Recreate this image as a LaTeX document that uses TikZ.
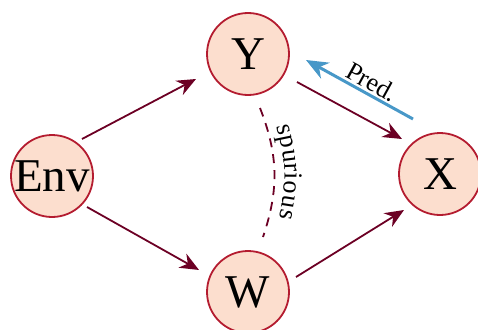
\documentclass[tikz,border=0pt]{standalone}
\usepackage{fontspec}
\setmainfont{Liberation Serif}
\usetikzlibrary{arrows.meta,calc,decorations.text}
\definecolor{nodefill}{RGB}{252,222,206}
\definecolor{nodeborder}{RGB}{180,28,48}
\definecolor{edgecol}{RGB}{108,0,36}
\definecolor{predcol}{RGB}{72,152,200}
\begin{document}
\begin{tikzpicture}[x=1pt,y=-1pt,
  var/.style={circle,draw=nodeborder,fill=nodefill,line width=1.8pt,minimum size=82pt,inner sep=0pt,font=\fontsize{47}{50}\selectfont},
  causal/.style={draw=edgecol,line width=1.8pt,-{Stealth[length=19pt,width=16pt]}},
  predarrow/.style={draw=predcol,line width=3pt,{Stealth[length=22pt,width=18pt]}-},
  spur/.style={draw=edgecol,line width=1.8pt,dash pattern=on 9pt off 7pt},
  lbl/.style={font=\fontsize{26}{28}\selectfont,inner sep=2pt}
]
\useasboundingbox (0,0) rectangle (478,329);
\node[var] (env) at (52,176) {Env};
\node[var] (y) at (248,54) {Y};
\node[var] (w) at (248,292) {W};
\node[var] (x) at (440,174) {X};
\draw[causal] ($(env)+(30,-37)$) -- ($(y)+(-52,25)$);
\draw[causal] ($(env)+(35,31)$) -- ($(w)+(-49,-22)$);
\draw[causal] ($(y)+(49,28)$) -- ($(x)+(-38,-35)$);
\draw[causal] ($(w)+(48,-15)$) -- ($(x)+(-36,36)$);
\draw[predarrow] ($(y)+(58,6)$) -- ($(x)+(-27,-55)$) node[lbl,pos=0.56,sloped,above] {Pred.};
\draw[spur] ($(y)+(12,54)$) to[bend left=20] ($(w)+(15,-55)$);
\path[decorate,decoration={text along path,text={|\fontsize{26}{28}\selectfont|spurious},text align=center,raise=10pt}] ($(y)+(12,54)$) to[bend left=20] ($(w)+(15,-55)$);
\end{tikzpicture}
\end{document}
